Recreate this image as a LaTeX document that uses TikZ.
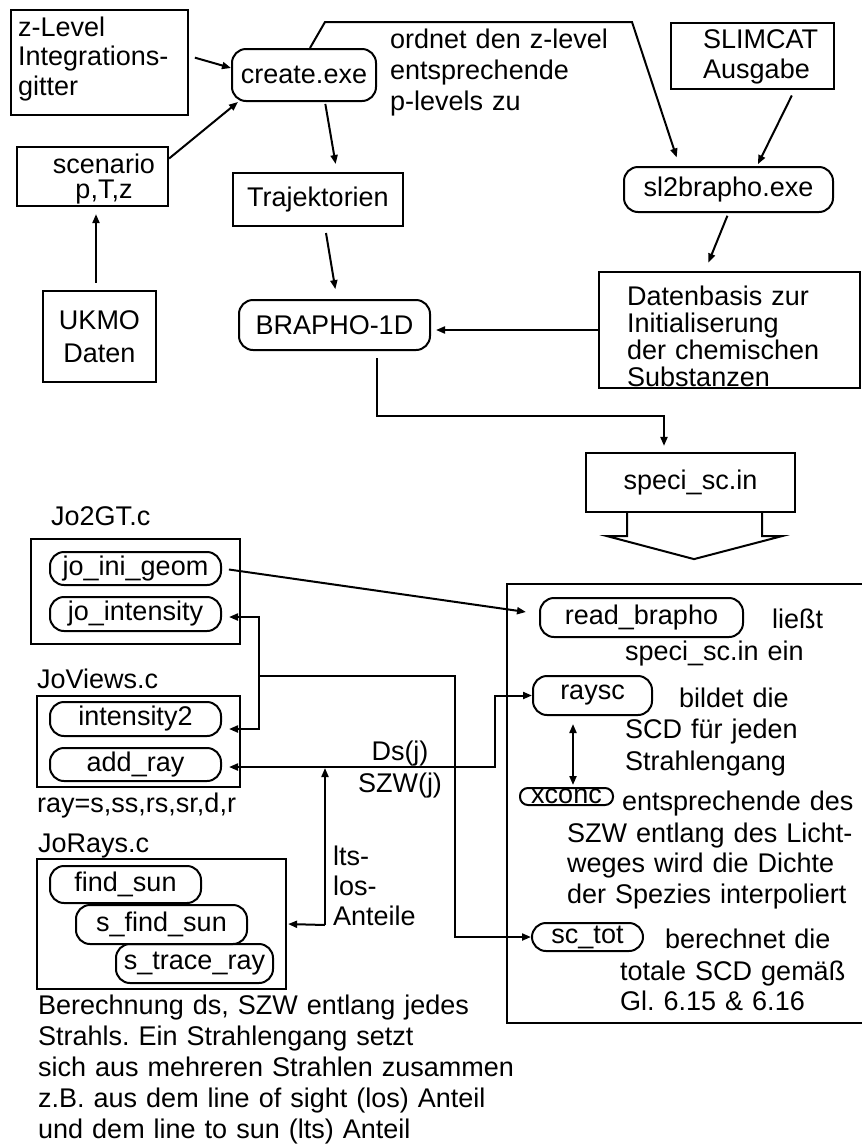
\documentclass[tikz,border=0pt]{standalone}
\usepackage{fontspec}
\setmainfont{Liberation Sans}
\usetikzlibrary{arrows.meta}
\frenchspacing

\begin{document}
\begin{tikzpicture}[
  x=1pt, y=-1pt,
  >={Triangle[length=9pt,width=7pt]},
  font=\fontsize{27}{30}\selectfont,
  blk/.style={draw, line width=2.2pt, inner sep=0pt},
  fn/.style={draw, line width=2pt, rounded corners=14pt, inner sep=0pt},
  txt/.style={inner sep=0pt, align=left, text width=560pt, anchor=base west},
  ctxt/.style={inner sep=0pt, align=center, text width=160pt, anchor=base},
  lnsk/.style={font=\fontsize{27}{#1}\selectfont},
  fl/.style={->, line width=2pt},
]
  \useasboundingbox (0,0) rectangle (862,1144);

  % plain boxes, their texts are set separately
  \foreach \name/\x/\y/\w/\h in {zlev/99.5/62.5/177/105, scen/92.5/176.5/151/59,
      ukmo/99.5/336.5/113/91, slim/752.5/56/163/66, datb/729.5/330/261/116,
      jo2gt/135.5/591.5/209/105, jovw/138.5/741.5/203/91, joray/161.5/924/249/130,
      scbox/686.5/803.5/359/439}
    \node[blk, minimum width=\w pt, minimum height=\h pt] (\name) at (\x, \y) {};

  \foreach \name/\x/\y/\w/\h/\lab in {traj/318/199.5/170/53/Trajektorien,
      speci/690.5/482.5/209/59/speci\_sc.in}
    \node[blk, minimum width=\w pt, minimum height=\h pt] (\name) at (\x, \y) {\lab};

  % programs and functions
  \foreach \name/\x/\y/\w/\h/\lab in {create/304/75/144/52/create.exe,
      brapho/334.5/325/191/50/BRAPHO-1D, sl2/728.5/189.5/209/45/sl2brapho.exe,
      jig/135.5/568.5/171/33/jo\_ini\_geom, jint/135.5/614/171/34/jo\_intensity,
      int2/135.5/719/171/34/intensity2, addr/135.5/764.5/171/33/add\_ray,
      fsun/125.5/884.5/151/37/find\_sun, sfsun/161.5/924.5/171/39/s\_find\_sun,
      strace/194.5/963.5/157/39/s\_trace\_ray, rbra/641.5/617.5/203/39/read\_brapho,
      rays/592.5/695.5/119/39/raysc, sctot/587.5/937/111/28/sc\_tot}
    \node[fn, minimum width=\w pt, minimum height=\h pt] (\name) at (\x, \y) {\lab};
  \node[fn, rounded corners=8pt, minimum width=93pt, minimum height=17pt] (xcon) at (566.5, 796.5) {xconc};

  \node[txt, lnsk=29.5] (zlevt) at (18, 36) {z-Level\\Integrations-\\gitter};
  \node[ctxt, lnsk=25] (scent) at (104, 173) {scenario\\p,T,z};
  \node[ctxt, lnsk=33] (ukmot) at (99.5, 329) {UKMO\\Daten};
  \node[txt] (slimt) at (703, 48) {SLIMCAT\\Ausgabe};
  \node[txt, lnsk=27.3] (datbt) at (627, 305) {Datenbasis zur\\Initialiserung\\der chemischen\\Substanzen};
  \node[txt, lnsk=31] (ordt) at (390, 48) {ordnet den z-level\\entsprechende\\p-levels zu};

  \node[txt] (jo2gtt) at (51, 525) {Jo2GT.c};
  \node[txt] (jovwt) at (37, 688) {JoViews.c};
  \node[txt] (rayt) at (37, 812) {ray=s,ss,rs,sr,d,r};
  \node[txt] (jorayt) at (38, 852) {JoRays.c};
  \node[txt, lnsk=31] (bert) at (38, 1014) {Berechnung ds, SZW entlang jedes\\Strahls. Ein Strahlengang setzt\\sich aus mehreren Strahlen zusammen\\z.B. aus dem line of sight (los) Anteil\\und dem line to sun (lts) Anteil};

  \node[txt] (liest) at (772, 628) {ließt};
  \node[txt] (liest2) at (625, 660) {speci\_sc.in ein};
  \node[txt] (bild) at (679, 707) {bildet die};
  \node[txt, lnsk=32] (bild2) at (625, 738) {SCD für jeden\\Strahlengang};
  \node[txt] (entsp) at (622, 810) {entsprechende des};
  \node[txt, lnsk=30.5] (entsp2) at (567, 842) {SZW entlang des Licht-\\weges wird die Dichte\\der Spezies interpoliert};
  \node[txt] (berech) at (665, 948) {berechnet die};
  \node[txt] (berech2) at (620, 980) {totale SCD gemäß\\Gl. 6.15 \& 6.16};
  \node[ctxt, lnsk=32] (dsj) at (400, 760) {Ds(j)\\SZW(j)};
  \node[txt] (ltst) at (333, 865) {lts-\\los-\\Anteile};

  % upper flow
  \draw[fl, shorten <=6pt] ([yshift=6.5pt]zlev.east) -- ([yshift=7pt]create.west);
  \draw[fl] ([yshift=18pt]scen.east) -- ([xshift=7pt]create.south west);
  \draw[fl, shorten <=7pt, shorten >=7pt] ([xshift=-3.5pt]ukmo.north) -- ([xshift=3.5pt]scen.south);
  \draw[fl, shorten <=2pt, shorten >=8pt] ([xshift=21pt]create.south) -- ([xshift=19pt]traj.north);
  \draw[fl, shorten <=6pt, shorten >=10pt] ([xshift=7pt]traj.south) -- ([xshift=2.5pt]brapho.north);
  \draw[fl, shorten >=9pt] ([xshift=6pt]create.north) -- ++(15,-26) -- ++(307,0) -- ([xshift=-49pt]sl2.north);
  \draw[fl, shorten <=6pt, shorten >=2pt] ([xshift=42pt]slim.south) -- ([xshift=28.5pt]sl2.north);
  \draw[fl, shorten <=3pt, shorten >=9pt] (sl2.south) -- ([xshift=-24.5pt]datb.north);
  \draw[fl, shorten >=5pt] (datb.west) -- (datb.west -| brapho.east);
  \draw[fl, shorten <=7pt, shorten >=6pt] ([xshift=42.5pt]brapho.south) -- ++(0,65) -| ([xshift=-26.5pt]speci.north);

  % hollow arrow below speci_sc.in
  \draw[line width=2pt] ([xshift=-63.5pt]speci.south) -- ++(0,23) -- ++(-20,0) -- ++(87,23)
    -- ++(88,-23) -- ++(-20,0) -- ++(0,-23);

  % lower flow
  \coordinate (jn) at (259, 676);
  \coordinate (lts) at (325, 925);
  \draw[fl, shorten <=7pt] (jig.east) -- ([xshift=-13pt, yshift=5.5pt]rbra.west);
  \draw[fl, shorten >=7pt] (jn) |- ([yshift=-3pt]jint.east);
  \draw[fl, shorten >=7pt] (jn) |- ([yshift=-10pt]int2.east);
  \draw[fl] (jn) -- ++(196,0) |- (sctot.west);
  \draw[<->, line width=2pt, shorten <=7pt] ([yshift=-2.5pt]addr.east) -- ++(273,0) |- (rays.west);
  \draw[fl] (lts) -- ++(0,-157);
  \draw[fl, shorten >=1pt] (lts) -- (joray.east);
  \draw[<->, line width=2pt, shorten <=8pt, shorten >=2pt] ([xshift=-19.5pt]rays.south) -- ([xshift=6.5pt]xcon.north);
\end{tikzpicture}
\end{document}
